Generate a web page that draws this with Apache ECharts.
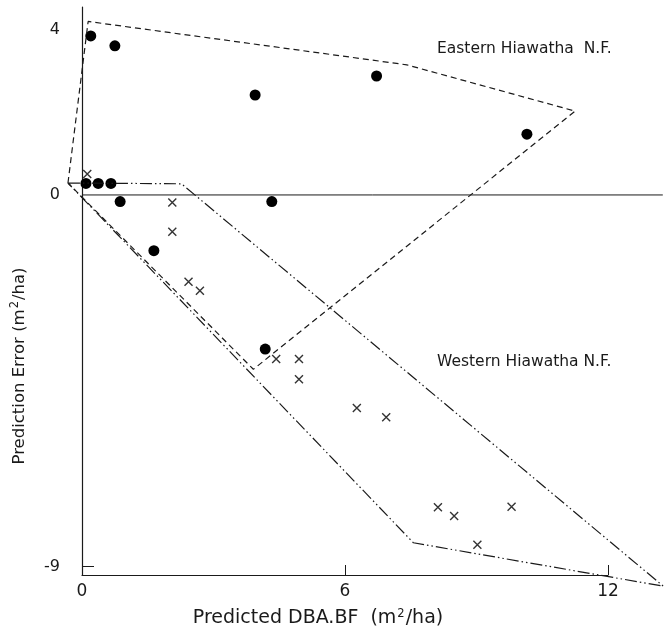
<!DOCTYPE html>
<html>
<head>
<meta charset="utf-8">
<script src="https://cdn.jsdelivr.net/npm/echarts@6/dist/echarts.min.js"></script>
<style>
  html, body { margin: 0; background: #fff; }
  #chart { width: 664px; height: 635px; }
</style>
</head>
<body>
<div id="chart"></div>
<script>
// Eastern Hiawatha N.F. plots (filled circles)
const eastPoints = [
  [0.20, 3.85], [0.75, 3.61], [3.95, 2.42], [6.72, 2.88], [10.15, 1.47],
  [0.09, 0.28], [0.37, 0.28], [0.66, 0.28], [0.87, -0.16], [4.33, -0.16],
  [1.64, -1.35], [4.18, -3.73]
];
// Western Hiawatha N.F. plots (crosses)
const westPoints = [
  [0.12, 0.51], [2.06, -0.18], [2.06, -0.89], [2.43, -2.10], [2.69, -2.32],
  [4.43, -3.97], [4.95, -3.97], [4.95, -4.46], [6.27, -5.16], [6.94, -5.38],
  [8.12, -7.56], [8.49, -7.77], [9.80, -7.55], [9.02, -8.47], [12.06, -8.96]
];
// envelopes drawn round each group
const eastHull = [[-0.32, 0.29], [0.14, 4.2], [7.41, 3.15], [11.25, 2.03], [3.91, -4.22], [-0.32, 0.29]];
const westHull = [[-0.32, 0.29], [2.27, 0.27], [13.26, -9.47], [7.56, -8.42], [-0.32, 0.29]];
const zeroLine = [[0, 0], [13.25, 0]];

const xTicks = [0, 6, 12];
const yTicks = [-9, 0, 4];

const font = 'DejaVu Sans';
const ink = '#1a1a1a';

// same scale on both grids: 43.83 px per x unit, 41.31 px per y unit
// grid 1 carries the visible axes, grid 2 is wider so the envelopes can run past them
const chart = echarts.init(document.getElementById('chart'));

const sup = { fontFamily: font, fontSize: 11.5, color: ink, padding: [0, 1, 9, 1] };

chart.setOption({
  backgroundColor: '#fff',
  animation: false,
  textStyle: { fontFamily: font, color: ink },
  grid: [
    { left: 82, right: 56, top: 7, bottom: 60 },
    { left: 60.08, right: 1.2, top: 7, bottom: 43.48 }
  ],
  xAxis: [
    {
      type: 'value',
      gridIndex: 0,
      min: 0,
      max: 12,
      name: 'Predicted DBA.BF  (m{sup|2}/ha)',
      nameLocation: 'middle',
      nameGap: 33,
      nameTextStyle: {
        fontFamily: font, fontSize: 19, color: ink, padding: [0, 54, 0, 0],
        rich: { sup }
      },
      axisLine: { onZero: false, lineStyle: { color: ink, width: 1.2 } },
      axisTick: { show: true, inside: true, length: 10, customValues: [6, 12], lineStyle: { color: ink } },
      axisLabel: { customValues: xTicks, fontFamily: font, fontSize: 17, color: ink, margin: 8 },
      splitLine: { show: false }
    },
    { type: 'value', gridIndex: 1, min: -0.5, max: 13.25, show: false, splitLine: { show: false } }
  ],
  yAxis: [
    {
      type: 'value',
      gridIndex: 0,
      min: -9.2,
      max: 4.55,
      name: 'Prediction Error (m{sup|2}/ha)',
      nameLocation: 'middle',
      nameRotate: 90,
      nameGap: 52,
      nameTextStyle: {
        fontFamily: font, fontSize: 16.5, color: ink, padding: [0, 150, 0, 0],
        rich: { sup }
      },
      axisLine: { onZero: false, lineStyle: { color: ink, width: 1.2 } },
      axisTick: { show: true, inside: true, length: 12, customValues: [-9], lineStyle: { color: ink } },
      axisLabel: { customValues: yTicks, fontFamily: font, fontSize: 16, color: ink, margin: 22 },
      splitLine: { show: false }
    },
    { type: 'value', gridIndex: 1, min: -9.6, max: 4.55, show: false, splitLine: { show: false } }
  ],
  graphic: [
    { type: 'text', left: 437, top: 41, style: { text: 'Eastern Hiawatha  N.F.', font: '15.5px "DejaVu Sans"', fill: ink } },
    { type: 'text', left: 437, top: 354, style: { text: 'Western Hiawatha N.F.', font: '15.5px "DejaVu Sans"', fill: ink } }
  ],
  series: [
    {
      type: 'line', xAxisIndex: 1, yAxisIndex: 1, data: zeroLine, symbol: 'none', silent: true,
      lineStyle: { color: ink, width: 1 }
    },
    {
      type: 'line', xAxisIndex: 1, yAxisIndex: 1, data: eastHull, symbol: 'none', silent: true,
      lineStyle: { color: ink, width: 1.2, type: [6, 4] }
    },
    {
      type: 'line', xAxisIndex: 1, yAxisIndex: 1, data: westHull, symbol: 'none', silent: true,
      lineStyle: { color: ink, width: 1.2, type: [12, 3, 1.5, 3, 1.5, 3] }
    },
    {
      type: 'scatter', data: eastPoints, symbol: 'circle', symbolSize: 11,
      itemStyle: { color: '#000', opacity: 1 }
    },
    {
      type: 'scatter', data: westPoints, symbol: 'path://M0,0L10,10M10,0L0,10', symbolSize: [8, 8],
      itemStyle: { color: 'none', borderColor: '#000', borderWidth: 1.4 }
    }
  ]
});
</script>
</body>
</html>
